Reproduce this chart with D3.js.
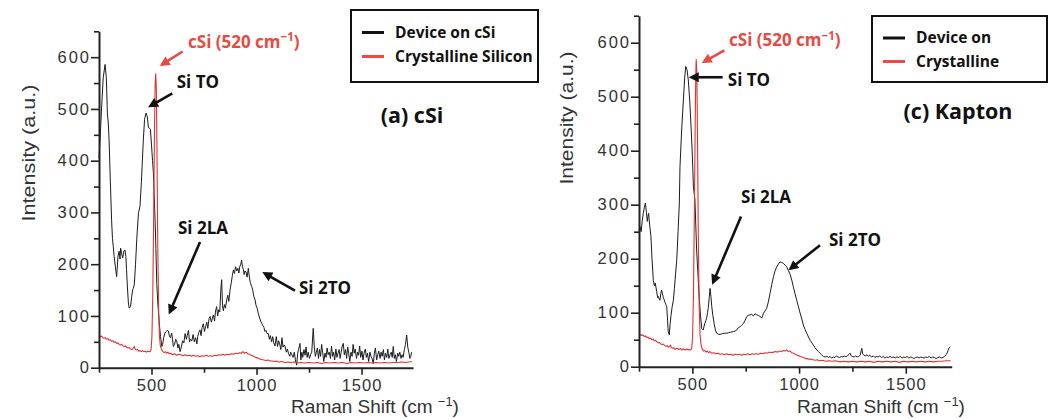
<!DOCTYPE html>
<html><head><meta charset="utf-8">
<script src="https://cdn.jsdelivr.net/npm/d3@7"></script>
<style>body{margin:0;background:#fff}svg{display:block}</style>
</head><body><svg id="chart" width="1054" height="419"></svg>
<script>
// ---------- tick values ----------
const xTicksMajor = [500, 1000, 1500];
const xTicksMinor = [250, 750, 1250];
const yTicksMajor = [0, 100, 200, 300, 400, 500, 600];
const yTicksMinor = [50, 150, 250, 350, 450, 550, 650];

// ---------- series: (a) cSi ----------
const deviceOnCSi = [[250,405],[255,440],[262,500],[270,560],[279,586],[285,560],[290,490],[294,475],[298,440],[304,360],[310,285],[314,250],[318,234],[322,215],[328,195],[334,176],[338,200],[340,214],[346,225],[350,210],[353,231],[358,220],[363,212],[368,225],[374,227],[378,215],[381,190],[386,150],[390,125],[394,115],[400,118],[405,135],[410,150],[413,153],[418,160],[424,200],[430,250],[438,300],[445,311],[452,360],[461,440],[467,480],[474,492],[480,485],[485,465],[488,463],[492,462],[495,460],[500,430],[505,400],[509,376],[513,330],[517,285],[521,230],[525,163],[530,125],[537,86],[543,60],[549,41],[553,45],[558,58],[564,67],[570,70],[575,72],[580,71],[586,60],[590,58],[596,67],[600,55],[604,41],[610,45],[615,55],[620,52],[626,38],[630,45],[636,31],[642,40],[648,52],[654,48],[660,66],[666,55],[670,62],[676,72],[681,50],[686,55],[692,52],[698,64],[704,50],[710,58],[716,46],[720,60],[725,68],[731,73],[736,62],[741,78],[747,85],[752,70],[758,80],[763,88],[768,76],[774,95],[779,99],[785,88],[790,96],[795,102],[800,90],[805,110],[810,118],[815,100],[820,112],[825,108],[830,150],[834,170],[838,120],[842,110],[847,122],[852,115],[858,131],[863,140],[868,128],[874,150],[880,165],[885,178],[890,189],[895,182],[900,195],[906,187],[911,192],[916,183],[920,195],[925,200],[929,208],[933,195],[937,190],[941,180],[945,187],[950,185],[955,175],[961,192],[966,175],[970,165],[977,157],[982,150],[987,138],[993,131],[998,120],[1003,115],[1008,105],[1013,98],[1018,92],[1024,86],[1029,82],[1035,78],[1040,70],[1045,72],[1050,66],[1056,66],[1061,55],[1066,62],[1072,50],[1077,60],[1082,48],[1088,42],[1094,60],[1100,41],[1105,52],[1110,46],[1116,35],[1121,58],[1126,40],[1132,44],[1136,41],[1142,30],[1147,36],[1152,28],[1158,22],[1163,30],[1168,25],[1174,20],[1180,30],[1185,15],[1191,5],[1196,28],[1200,35],[1207,47],[1211,15],[1216,30],[1220,20],[1226,35],[1231,24],[1236,40],[1241,20],[1246,30],[1252,18],[1257,25],[1263,30],[1270,76],[1275,40],[1280,22],[1285,30],[1290,38],[1295,18],[1300,35],[1305,22],[1310,45],[1315,30],[1320,12],[1326,28],[1331,20],[1336,38],[1341,25],[1346,30],[1352,18],[1357,42],[1362,22],[1367,30],[1372,15],[1378,36],[1383,20],[1388,28],[1393,35],[1398,18],[1403,30],[1408,42],[1413,47],[1418,25],[1424,35],[1429,18],[1434,40],[1439,28],[1444,12],[1450,30],[1455,22],[1460,45],[1465,28],[1470,36],[1476,18],[1481,30],[1486,24],[1491,42],[1496,20],[1502,32],[1507,15],[1512,28],[1518,36],[1523,20],[1528,28],[1534,12],[1540,30],[1545,22],[1550,18],[1556,8],[1561,28],[1566,38],[1572,15],[1577,25],[1582,32],[1588,18],[1593,30],[1598,22],[1604,35],[1609,15],[1614,28],[1620,20],[1625,36],[1630,18],[1636,25],[1641,30],[1646,20],[1651,41],[1656,18],[1661,25],[1666,12],[1672,28],[1677,22],[1682,30],[1688,18],[1693,25],[1698,20],[1704,35],[1709,45],[1715,63],[1720,40],[1725,30],[1730,18],[1734,21],[1738,30]];

const crystallineA = [[250,62],[256,60],[262,61],[268,58],[274,57],[280,58],[286,55],[292,56],[298,53],[304,54],[310,51],[316,52],[322,49],[328,50],[334,47],[340,48],[346,45],[352,44],[358,45],[364,42],[370,41],[376,42],[382,39],[388,38],[394,39],[400,36],[406,35],[412,37],[418,41],[422,36],[428,34],[434,35],[440,32],[446,33],[452,31],[458,33],[464,31],[470,32],[476,30],[482,32],[488,31],[494,32],[498,35],[502,60],[506,140],[510,280],[514,450],[517,545],[520,568],[523,540],[526,420],[530,230],[534,110],[538,60],[542,42],[548,35],[554,31],[560,29],[566,31],[572,28],[578,30],[584,27],[590,28],[600,25],[610,27],[620,24],[630,26],[640,25],[650,23],[660,25],[670,23],[680,24],[690,22],[700,24],[710,22],[720,23],[730,21],[740,23],[750,22],[760,24],[770,22],[780,23],[790,22],[800,24],[810,23],[820,25],[830,24],[840,26],[850,24],[860,26],[870,25],[880,27],[890,26],[900,28],[910,27],[920,29],[928,28],[935,31],[942,28],[950,30],[958,27],[966,26],[975,24],[985,22],[995,20],[1005,19],[1015,17],[1025,16],[1035,15],[1045,14],[1055,15],[1065,13],[1075,13],[1085,12],[1095,13],[1105,11],[1120,12],[1135,10],[1150,11],[1165,10],[1180,11],[1195,9],[1210,10],[1230,9],[1250,10],[1270,9],[1290,10],[1310,8],[1330,10],[1350,9],[1370,10],[1390,9],[1410,10],[1430,8],[1450,10],[1470,9],[1490,10],[1510,9],[1530,10],[1550,9],[1570,10],[1590,9],[1610,10],[1630,9],[1650,10],[1670,10],[1690,11],[1710,10],[1725,11],[1740,12]];

// ---------- series: (c) Kapton ----------
const deviceOnKapton = [[250,253],[255,259],[260,250],[265,270],[270,284],[275,295],[280,303],[285,285],[289,269],[292,278],[295,284],[300,262],[306,241],[311,200],[317,160],[322,150],[326,155],[333,139],[337,128],[341,130],[345,125],[348,123],[352,135],[356,142],[360,135],[364,128],[368,124],[372,119],[376,115],[380,111],[384,85],[387,65],[392,59],[396,80],[400,95],[405,110],[411,123],[416,145],[421,170],[427,198],[433,250],[439,303],[442,370],[450,440],[458,494],[464,535],[469,556],[475,550],[481,531],[488,490],[494,444],[500,390],[505,333],[512,309],[520,216],[527,165],[533,123],[538,95],[544,71],[551,68],[558,80],[563,85],[567,90],[571,100],[575,110],[579,128],[583,145],[587,130],[591,111],[596,95],[602,80],[608,68],[614,62],[622,60],[630,60],[640,61],[650,62],[661,62],[670,63],[680,64],[692,65],[700,66],[708,68],[715,72],[723,74],[731,77],[739,80],[747,86],[755,93],[762,95],[770,96],[778,97],[786,94],[794,98],[802,96],[810,95],[817,93],[821,92],[825,90],[829,94],[833,99],[840,103],[848,108],[856,120],[864,136],[872,152],[880,167],[888,178],[895,185],[903,190],[911,194],[919,193],[927,191],[935,188],[942,185],[950,178],[958,171],[966,160],[973,148],[981,135],[989,123],[997,111],[1005,99],[1013,88],[1020,77],[1028,69],[1036,62],[1044,55],[1052,49],[1060,44],[1067,40],[1075,35],[1083,31],[1091,28],[1098,25],[1106,22],[1114,19],[1122,18],[1130,19],[1138,17],[1145,19],[1152,16],[1160,18],[1168,17],[1175,20],[1182,18],[1190,17],[1198,19],[1205,18],[1212,20],[1220,18],[1228,21],[1235,23],[1239,25],[1244,20],[1250,19],[1258,18],[1265,20],[1272,18],[1280,19],[1287,22],[1291,30],[1294,34],[1298,24],[1302,22],[1310,20],[1318,22],[1325,19],[1332,21],[1340,18],[1348,20],[1355,17],[1362,19],[1370,18],[1378,20],[1386,17],[1394,19],[1402,16],[1410,18],[1418,17],[1426,19],[1434,17],[1442,18],[1450,16],[1458,18],[1466,17],[1474,19],[1482,16],[1490,18],[1498,17],[1506,19],[1514,16],[1522,18],[1530,17],[1538,15],[1546,17],[1554,18],[1562,16],[1570,18],[1578,17],[1586,16],[1594,18],[1602,17],[1610,19],[1618,16],[1626,18],[1634,17],[1642,15],[1650,17],[1658,18],[1666,16],[1674,17],[1682,19],[1688,22],[1693,25],[1698,30],[1703,35],[1708,37]];

const crystallineC = [[250,60],[256,59],[262,58],[268,59],[274,56],[280,57],[286,54],[292,55],[298,52],[304,53],[310,50],[316,51],[322,48],[328,49],[334,46],[340,44],[346,45],[352,42],[358,41],[364,42],[370,39],[376,38],[382,39],[388,36],[394,38],[398,40],[402,35],[408,34],[414,35],[420,32],[426,34],[432,33],[438,32],[444,34],[450,31],[456,33],[462,32],[468,31],[474,33],[480,31],[486,32],[492,31],[497,34],[501,55],[505,130],[509,270],[513,440],[516,540],[518,569],[521,545],[524,430],[528,240],[532,110],[536,60],[540,42],[546,33],[552,29],[558,30],[564,27],[570,29],[576,26],[582,28],[590,25],[600,26],[610,24],[620,25],[630,23],[640,24],[650,22],[660,24],[670,22],[680,23],[690,21],[700,23],[710,22],[720,23],[730,21],[740,23],[750,22],[760,24],[770,22],[780,24],[790,23],[800,24],[810,23],[820,25],[830,24],[840,26],[850,25],[860,27],[870,26],[880,27],[890,28],[900,27],[910,29],[918,28],[926,30],[934,29],[942,31],[950,28],[958,29],[966,26],[975,25],[985,22],[995,21],[1005,19],[1015,18],[1025,16],[1035,15],[1045,14],[1055,14],[1065,13],[1075,12],[1085,13],[1095,11],[1110,12],[1125,10],[1140,11],[1155,10],[1170,11],[1190,9],[1210,10],[1230,9],[1250,10],[1270,9],[1290,10],[1310,9],[1330,10],[1350,8],[1370,10],[1390,9],[1410,10],[1430,9],[1450,10],[1470,8],[1490,10],[1510,9],[1530,10],[1550,9],[1570,10],[1590,9],[1610,10],[1630,9],[1650,10],[1670,10],[1690,11],[1710,11]];

// ---------- labels ----------
const legendA = ["Device on cSi", "Crystalline Silicon"];
const legendC = ["Device on", "Crystalline"];
const titleA = "(a) cSi";
const titleC = "(c) Kapton";

// annotations in data units: text anchor point, arrow start, arrow end
const annotA = [
  {label:"cSi", red:true, tx:674, ty:618, from:[648,611], to:[551,586]},
  {label:"Si TO", tx:620, ty:541, from:[599,530], to:[496,506]},
  {label:"Si 2LA", tx:626, ty:258, from:[731,243], to:[588,108]},
  {label:"Si 2TO", tx:1202, ty:142, from:[1183,149], to:[1040,182]}
];
const annotC = [
  {label:"cSi", red:true, tx:672, ty:593, from:[650,586], to:[556,565]},
  {label:"Si TO", tx:666, ty:520, from:[642,536], to:[497,536]},
  {label:"Si 2LA", tx:728, ty:304, from:[728,278], to:[598,157]},
  {label:"Si 2TO", tx:1140, ty:224, from:[1098,225], to:[961,182]}
];

// ---------- drawing ----------
const BLACK = "#1c1c1c", RED = "#e2342f", RED_TEXT = "#e84a43";
const svg = d3.select("#chart");
const defs = svg.append("defs");
[["ahBlack","#111"],["ahRed",RED_TEXT]].forEach(([id,c])=>{
  defs.append("marker").attr("id",id).attr("viewBox","0 0 10 10")
    .attr("refX",7).attr("refY",5).attr("markerWidth",11).attr("markerHeight",10)
    .attr("markerUnits","userSpaceOnUse").attr("orient","auto")
    .append("path").attr("d","M0,0L10,5L0,10z").attr("fill",c);
});

const boldFont = "'Open Sans', 'Noto Sans', sans-serif";
const plainFont = "'Liberation Sans', Arial, sans-serif";

function supText(sel, before, sup, after, fs) {
  sel.append("tspan").text(before);
  sel.append("tspan").text(sup).attr("font-size", fs*0.68).attr("dy", -fs*0.38);
  sel.append("tspan").text(after).attr("dy", fs*0.38);
}

function drawPanel(cfg) {
  const x = d3.scaleLinear().domain(cfg.xDomain).range([cfg.left, cfg.right]);
  const y = d3.scaleLinear().domain([0, 650]).range([cfg.bottom, cfg.top]);
  const g = svg.append("g");
  const line = d3.line().x(d => x(d[0])).y(d => y(d[1]));

  g.append("path").datum(cfg.device).attr("d", line)
    .attr("fill","none").attr("stroke",BLACK).attr("stroke-width",1).attr("stroke-linejoin","round");
  g.append("path").datum(cfg.ref).attr("d", line)
    .attr("fill","none").attr("stroke",RED).attr("stroke-width",1.1).attr("stroke-linejoin","round");

  // axes
  const xa = g.append("g").attr("transform",`translate(0,${cfg.bottom})`)
    .call(d3.axisBottom(x).tickValues(xTicksMajor).tickSize(7).tickSizeOuter(0).tickPadding(5).tickFormat(d3.format("d")));
  const xm = g.append("g").attr("transform",`translate(0,${cfg.bottom})`)
    .call(d3.axisBottom(x).tickValues(xTicksMinor).tickSize(5).tickSizeOuter(0).tickFormat(""));
  xm.select(".domain").remove();
  const ya = g.append("g").attr("transform",`translate(${cfg.left},0)`)
    .call(d3.axisLeft(y).tickValues(yTicksMajor).tickSize(8).tickSizeOuter(0).tickPadding(0).tickFormat(d3.format("d")));
  const ym = g.append("g").attr("transform",`translate(${cfg.left},0)`)
    .call(d3.axisLeft(y).tickValues(yTicksMinor).tickSize(5).tickSizeOuter(0).tickFormat(""));
  ym.select(".domain").remove();
  [xa, xm, ya, ym].forEach(a => {
    a.select(".domain").attr("stroke","#222").attr("stroke-width",2);
    a.selectAll(".tick line").attr("stroke","#222").attr("stroke-width",1.6);
    a.selectAll("text").attr("font-family",plainFont).attr("font-size",16.5).attr("fill","#333");
  });
  xa.selectAll("text").attr("letter-spacing",1);
  ya.selectAll("text").attr("letter-spacing",2);

  // axis titles
  g.append("text").attr("transform",`translate(${cfg.yTitleX},${cfg.yTitleY}) rotate(-90)`)
    .attr("text-anchor","middle").attr("font-family",plainFont).attr("font-size",19).attr("fill","#333")
    .attr("textLength",cfg.yTitleLen).attr("lengthAdjust","spacingAndGlyphs")
    .text("Intensity (a.u.)");
  const xt = g.append("text").attr("x",cfg.xTitleX).attr("y",413)
    .attr("text-anchor","middle").attr("font-family",plainFont).attr("font-size",19).attr("fill","#333");
  supText(xt, "Raman Shift (cm ", "\u22121", ")", 19);

  // annotations
  cfg.annot.forEach(a => {
    const col = a.red ? RED_TEXT : "#111";
    g.append("line").attr("x1",x(a.from[0])).attr("y1",y(a.from[1]))
      .attr("x2",x(a.to[0])).attr("y2",y(a.to[1]))
      .attr("stroke",col).attr("stroke-width",2.6)
      .attr("marker-end",`url(#${a.red?"ahRed":"ahBlack"})`);
    const t = g.append("text").attr("x",x(a.tx)).attr("y",y(a.ty))
      .attr("font-family",boldFont).attr("font-weight",700).attr("font-size",17).attr("fill",col);
    if (a.red) {
      supText(t, "cSi (520 cm", "\u22121", ")", 17);
    } else {
      t.text(a.label);
    }
  });

  // legend
  const L = cfg.legend;
  g.append("rect").attr("x",L.x).attr("y",L.y).attr("width",L.w).attr("height",L.h)
    .attr("fill","#fff").attr("stroke","#111").attr("stroke-width",2);
  cfg.legendLabels.forEach((lab,i) => {
    const by = L.y + L.b0 + i*L.dy;
    g.append("line").attr("x1",L.x+11).attr("x2",L.x+33).attr("y1",by-5).attr("y2",by-5)
      .attr("stroke", i===0 ? "#111" : "#ee4a44").attr("stroke-width",3);
    g.append("text").attr("x",L.x+44).attr("y",by).text(lab)
      .attr("font-family",boldFont).attr("font-weight",700).attr("font-size",15.5).attr("fill","#111");
  });

  // panel title
  g.append("text").attr("x",cfg.titleX).attr("y",cfg.titleY).attr("text-anchor","middle")
    .attr("font-family",boldFont).attr("font-weight",700).attr("font-size",21.5).attr("fill","#111")
    .text(cfg.title);
}

drawPanel({
  xDomain:[250,1745], left:99, right:413, bottom:367.7, top:31.3,
  device:deviceOnCSi, ref:crystallineA, annot:annotA,
  yTitleX:35, yTitleY:153, yTitleLen:137, xTitleX:375,
  legend:{x:351, y:10, w:187, h:72, b0:27.5, dy:24}, legendLabels:legendA,
  title:titleA, titleX:412, titleY:123
});
drawPanel({
  xDomain:[250,1715], left:639, right:951.7, bottom:366.7, top:15.7,
  device:deviceOnKapton, ref:crystallineC, annot:annotC,
  yTitleX:573, yTitleY:118, yTitleLen:133, xTitleX:881,
  legend:{x:872, y:16, w:175, h:66, b0:27, dy:23.5}, legendLabels:legendC,
  title:titleC, titleX:958, titleY:119
});
</script></body></html>
